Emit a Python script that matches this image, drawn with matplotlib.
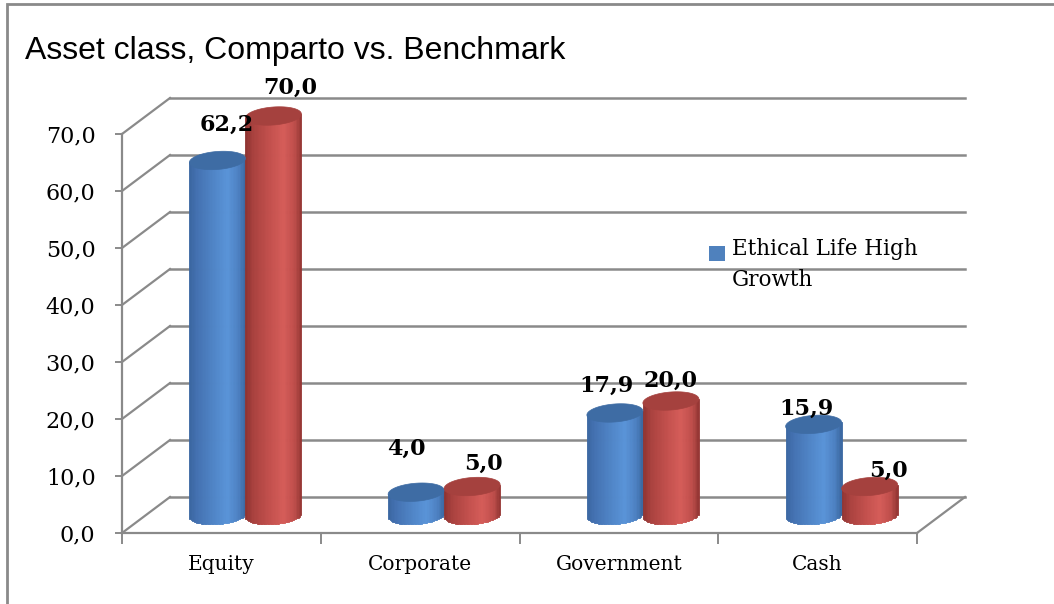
import numpy as np
import matplotlib
matplotlib.use("Agg")
import matplotlib.pyplot as plt
from matplotlib.patches import Polygon, Rectangle, Patch
from matplotlib.colors import to_rgb
from matplotlib.legend_handler import HandlerPatch

categories = ["Equity", "Corporate", "Government", "Cash"]
comparto = [62.2, 4.0, 17.9, 15.9]
benchmark = [70.0, 5.0, 20.0, 5.0]
series_name = "Ethical Life High\nGrowth"
y_ticks = [0, 10, 20, 30, 40, 50, 60, 70]

# label nudges (pixels) to mimic Excel's 3d label placement
nudge_blue = [(9, 36), (-10, 43), (-8, 27), (-7, 16)]
nudge_red = [(17, 28), (11, 23), (0, 20), (19, 16)]

# colour ramps across a cylinder (position 0..1, colour)
ramp_blue = [(0, "#3a66a0"), (0.15, "#4572b2"), (0.45, "#5086c8"),
             (0.68, "#5a94d8"), (0.88, "#4c80c1"), (1, "#3a66a0")]
ramp_red = [(0, "#8e3331"), (0.15, "#aa423f"), (0.45, "#c4514e"),
            (0.68, "#d55d59"), (0.88, "#be4d4a"), (1, "#923533")]

W, H = 1054, 604
fig = plt.figure(figsize=(W / 100, H / 100), dpi=100)
ax = fig.add_axes([122 / W, 71 / H, 795 / W, 399 / H])
ax.set_xlim(-0.5, 3.5)
ax.set_ylim(0, 70)
ax.patch.set_alpha(0)

px_x = 795 / 4.0
px_y = 399 / 70.0
back_dx = 48 / px_x
back_dy = 36 / px_y
mid_dx = back_dx / 2
mid_dy = back_dy / 2
grid_c = "#8a8a8a"

# back wall gridlines + side wall diagonals
for v in y_ticks:
    ax.plot([-0.5 + back_dx, 3.5 + back_dx], [v + back_dy, v + back_dy],
            color=grid_c, lw=1.8, zorder=1, clip_on=False)
    ax.plot([-0.5, -0.5 + back_dx], [v, v + back_dy],
            color=grid_c, lw=1.6, zorder=1, clip_on=False)
ax.plot([3.5, 3.5 + back_dx], [0, back_dy], color=grid_c, lw=1.6, zorder=1, clip_on=False)

bar_w = 56 / px_x
ell_h = 18 / px_y
tilt = 4 / px_y  # rise from left rim to right rim
n_strip = 40


def ramp(points, u):
    pos = [p for p, _ in points]
    cols = np.array([to_rgb(c) for _, c in points])
    return [tuple(np.interp(k, pos, cols[:, j]) for j in range(3)) for k in u]


def cylinder(xl, val, ramp_pts, top):
    step = bar_w / n_strip
    u = (np.arange(n_strip) + 0.5) / n_strip
    xs = xl + u * bar_w
    lean = tilt * (u - 0.5)
    curve = (ell_h / 2) * np.sqrt(1 - (2 * u - 1) ** 2)
    bottoms = mid_dy + lean - curve
    heights = val + curve
    cols = ramp(ramp_pts, u)
    ax.bar(xs, heights, width=step, bottom=bottoms, color=cols, edgecolor=cols,
           linewidth=0.6, align="center", zorder=3, clip_on=False)
    t = np.linspace(0, 2 * np.pi, 90)
    ex = xl + bar_w / 2 + bar_w / 2 * np.cos(t)
    ey = val + mid_dy + ell_h / 2 * np.sin(t) + tilt * np.cos(t) / 2
    ax.add_patch(Polygon(np.column_stack([ex, ey]), closed=True, facecolor=top,
                         edgecolor=top, lw=0.5, zorder=4, clip_on=False))


label_kw = dict(ha="center", va="center", fontsize=16, fontweight="bold",
                family="DejaVu Serif", textcoords="offset pixels", zorder=6,
                annotation_clip=False)
for i in range(len(categories)):
    xb = i + mid_dx - bar_w
    xr = i + mid_dx
    cylinder(xb, comparto[i], ramp_blue, "#3e6ca4")
    cylinder(xr, benchmark[i], ramp_red, "#a5413e")
    ax.annotate(f"{comparto[i]:.1f}".replace(".", ","),
                (xb + bar_w / 2, comparto[i] + mid_dy), xytext=nudge_blue[i], **label_kw)
    ax.annotate(f"{benchmark[i]:.1f}".replace(".", ","),
                (xr + bar_w / 2, benchmark[i] + mid_dy), xytext=nudge_red[i], **label_kw)

# axes
for sp in ["top", "right"]:
    ax.spines[sp].set_visible(False)
for sp in ["left", "bottom"]:
    ax.spines[sp].set_color(grid_c)
    ax.spines[sp].set_linewidth(1.6)
    ax.spines[sp].set_zorder(2)
ax.set_yticks(y_ticks)
ax.set_yticklabels([f"{v:.1f}".replace(".", ",") for v in y_ticks],
                   family="DejaVu Serif", fontsize=16)
ax.tick_params(axis="y", length=5, width=1.4, color=grid_c, pad=14)
ax.set_xticks(range(len(categories)))
ax.set_xticklabels(categories, family="DejaVu Serif", fontsize=14.5)
ax.tick_params(axis="x", which="major", length=0, pad=16)
ax.set_xticks(np.arange(-0.5, len(categories), 1.0), minor=True)
ax.tick_params(axis="x", which="minor", length=8, width=1.4, color=grid_c)


class FirstLineHandler(HandlerPatch):
    # put the legend key beside the first line of a two-line label
    def create_artists(self, legend, orig_handle, xdescent, ydescent,
                       width, height, fontsize, trans):
        return super().create_artists(legend, orig_handle, xdescent,
                                      ydescent - 0.55 * fontsize, width, height,
                                      fontsize, trans)


leg = ax.legend([Patch(facecolor="#4f81bd")], [series_name],
                loc="upper left", bbox_to_anchor=(709 / W, 1 - 238 / H),
                bbox_transform=fig.transFigure, frameon=False,
                prop={"family": "DejaVu Serif", "size": 15.5},
                handlelength=0.72, handleheight=0.72, handletextpad=0.35,
                borderpad=0, borderaxespad=0,
                handler_map={Patch: FirstLineHandler()})
leg.get_texts()[0].set_linespacing(1.55)

fig.text(25 / W, 1 - 59 / H, "Asset class, Comparto vs. Benchmark",
         family="Liberation Sans", fontsize=23, va="baseline", ha="left")

fig.patches.append(Rectangle((7 / W, -0.1), 1.2, 1 - 4 / H + 0.1, fill=False,
                             edgecolor=grid_c, lw=2, transform=fig.transFigure))

fig.savefig("out.png", dpi=100)
